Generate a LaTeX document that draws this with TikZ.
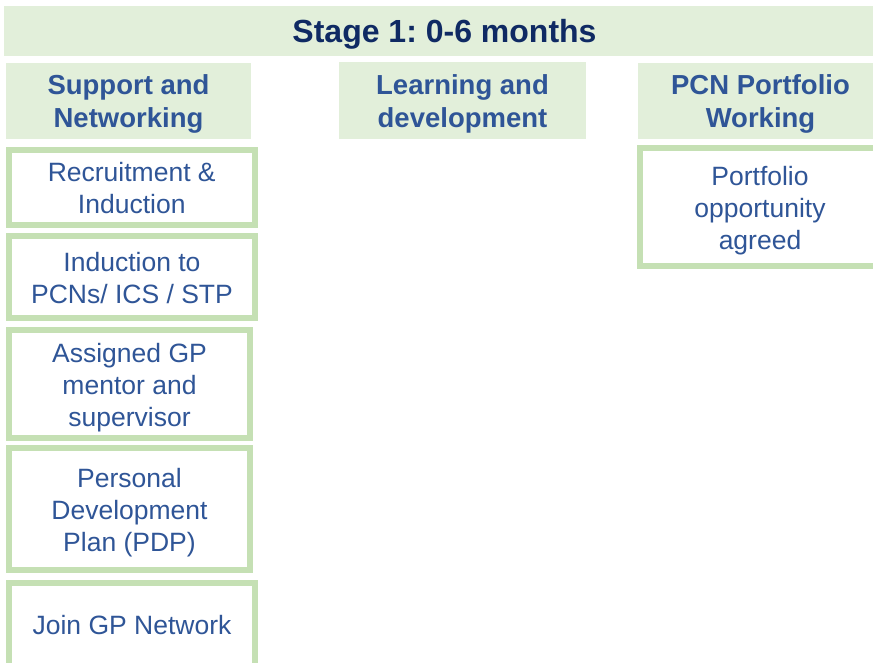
\documentclass[tikz,border=0pt]{standalone}
\usepackage{fontspec}
\setmainfont{Liberation Sans}
\frenchspacing
\definecolor{bannerfill}{HTML}{E2EFDA}
\definecolor{boxborder}{HTML}{C5E0B4}
\definecolor{txtblue}{HTML}{2F5597}
\definecolor{titlenavy}{HTML}{0F2A63}
\tikzset{
  bannerbg/.style={fill=bannerfill, inner sep=0pt},
  bannertext/.style={inner sep=0pt, text=titlenavy, font=\fontsize{32}{38}\selectfont\bfseries},
  headtext/.style={inner sep=0pt, align=center, text=txtblue, font=\fontsize{27.5}{33}\selectfont\bfseries},
  itembox/.style={draw=boxborder, line width=6pt, fill=white, inner sep=0pt},
  itemtext/.style={inner sep=0pt, align=center, text=txtblue, font=\fontsize{26.5}{32}\selectfont},
}
\begin{document}
\frenchspacing
\begin{tikzpicture}[x=1pt,y=-1pt]
\useasboundingbox (0,0) rectangle (873,663);
\clip (0,0) rectangle (873,663);
% banner and column headers
\node[bannerbg, minimum width=881pt, minimum height=50pt] (stage) at (444.5,31) {};
\node[bannertext] (stagetxt) at ([yshift=-3pt]stage.center) {Stage 1: 0-6 months};
\node[bannerbg, minimum width=245pt, minimum height=76pt] (h1) at (128.5,101) {};
\node[bannerbg, minimum width=247pt, minimum height=77pt] (h2) at (462.5,100.5) {};
\node[bannerbg, minimum width=245pt, minimum height=76pt] (h3) at (760.5,101) {};
\node[headtext] (h1t) at ([yshift=-2.5pt]h1.center) {Support and\\Networking};
\node[headtext] (h2t) at ([yshift=-3pt]h2.center) {Learning and\\development};
\node[headtext] (h3t) at ([yshift=-2.5pt]h3.center) {PCN Portfolio\\Working};
% item boxes
\node[itembox, minimum width=245.5pt, minimum height=75pt] (b1) at (131.75,187.5) {};
\node[itembox, minimum width=246pt, minimum height=82pt] (b2) at (132,277) {};
\node[itembox, minimum width=241pt, minimum height=108pt] (b3) at (129.5,384) {};
\node[itembox, minimum width=241pt, minimum height=122pt] (b4) at (129.5,509) {};
\node[itembox, minimum width=246pt, minimum height=84pt] (b5) at (132,625) {};
\node[itembox, minimum width=240pt, minimum height=118pt] (p1) at (760,207) {};
\node[itemtext] (b1t) at ([yshift=-1pt]b1.center) {Recruitment \&\\Induction};
\node[itemtext] (b2t) at ([yshift=-1pt]b2.center) {Induction to\\PCNs/ ICS / STP};
\node[itemtext] (b3t) at ([yshift=-4pt]b3.center) {Assigned GP\\mentor and\\supervisor};
\node[itemtext] (b4t) at ([yshift=-4pt]b4.center) {Personal\\Development\\Plan (PDP)};
\node[itemtext] (b5t) at (b5.center) {Join GP Network};
\node[itemtext] (p1t) at ([yshift=-4pt]p1.center) {Portfolio\\opportunity\\agreed};
\end{tikzpicture}
\end{document}
